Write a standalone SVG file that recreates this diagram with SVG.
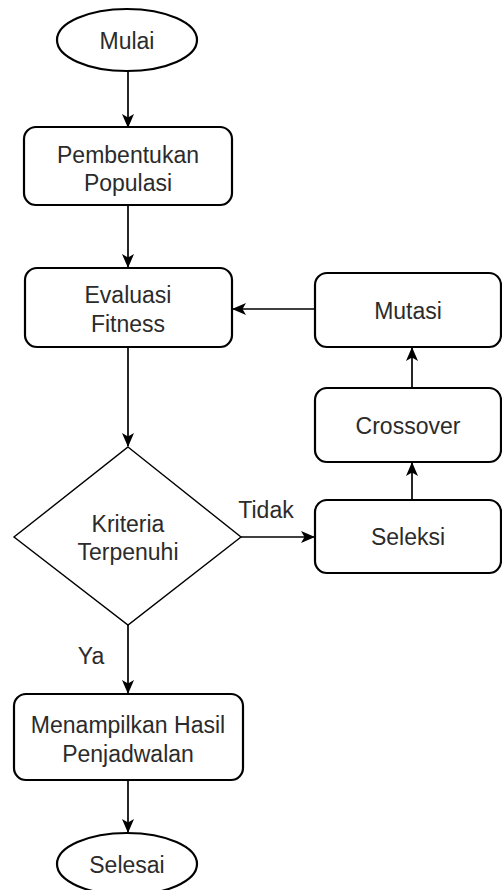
<svg xmlns="http://www.w3.org/2000/svg" width="502" height="890" viewBox="0 0 502 890">
<style>
.shape{fill:#ffffff;stroke:#000000;stroke-width:2.2}
.dia{fill:#ffffff;stroke:#000000;stroke-width:1.4}
.conn{fill:none;stroke:#000000;stroke-width:1.7}
text{font-family:"Liberation Sans",Arial,sans-serif;font-size:23px;fill:#2b2b2b;text-anchor:middle}
</style>
<defs>
<marker id="arr" viewBox="0 0 14 14" refX="13" refY="7" markerWidth="14" markerHeight="14" markerUnits="userSpaceOnUse" orient="auto">
<path d="M0,1 L14,7 L0,13 L3.5,7 Z" fill="#000000"/>
</marker>
</defs>
<rect width="502" height="890" fill="#ffffff"/>
<g id="connectors">
<path class="conn" d="M128,71 L128,127" marker-end="url(#arr)"/>
<path class="conn" d="M128,205 L128,267" marker-end="url(#arr)"/>
<path class="conn" d="M128,347 L128,446" marker-end="url(#arr)"/>
<path class="conn" d="M240,537 L314,537" marker-end="url(#arr)"/>
<path class="conn" d="M412,500 L412,463" marker-end="url(#arr)"/>
<path class="conn" d="M412,388 L412,348" marker-end="url(#arr)"/>
<path class="conn" d="M315,309 L233,309" marker-end="url(#arr)"/>
<path class="conn" d="M128,625 L128,693" marker-end="url(#arr)"/>
<path class="conn" d="M128,780 L128,832" marker-end="url(#arr)"/>
<text x="266" y="518">Tidak</text>
<text x="91" y="664">Ya</text>
</g>
<g id="mulai">
<ellipse class="shape" cx="127" cy="40" rx="70" ry="31"/>
<text x="127" y="49">Mulai</text>
</g>
<g id="pembentukan">
<rect class="shape" x="24" y="127" width="208" height="78" rx="12"/>
<text x="128" y="163">Pembentukan</text>
<text x="128" y="191">Populasi</text>
</g>
<g id="evaluasi">
<rect class="shape" x="25" y="268" width="207" height="79" rx="12"/>
<text x="128" y="303">Evaluasi</text>
<text x="128" y="332">Fitness</text>
</g>
<g id="kriteria">
<polygon class="dia" points="128,447 241,537 128,625 14,537"/>
<text x="128" y="532">Kriteria</text>
<text x="128" y="560">Terpenuhi</text>
</g>
<g id="mutasi">
<rect class="shape" x="315" y="273" width="186" height="74" rx="12"/>
<text x="408" y="319">Mutasi</text>
</g>
<g id="crossover">
<rect class="shape" x="315" y="388" width="186" height="74" rx="12"/>
<text x="408" y="434">Crossover</text>
</g>
<g id="seleksi">
<rect class="shape" x="315" y="500" width="186" height="73" rx="12"/>
<text x="408" y="545">Seleksi</text>
</g>
<g id="menampilkan">
<rect class="shape" x="14" y="694" width="229" height="86" rx="12"/>
<text x="128" y="733">Menampilkan Hasil</text>
<text x="128" y="762">Penjadwalan</text>
</g>
<g id="selesai">
<ellipse class="shape" cx="127" cy="864" rx="70" ry="31"/>
<text x="127" y="873">Selesai</text>
</g>
</svg>
